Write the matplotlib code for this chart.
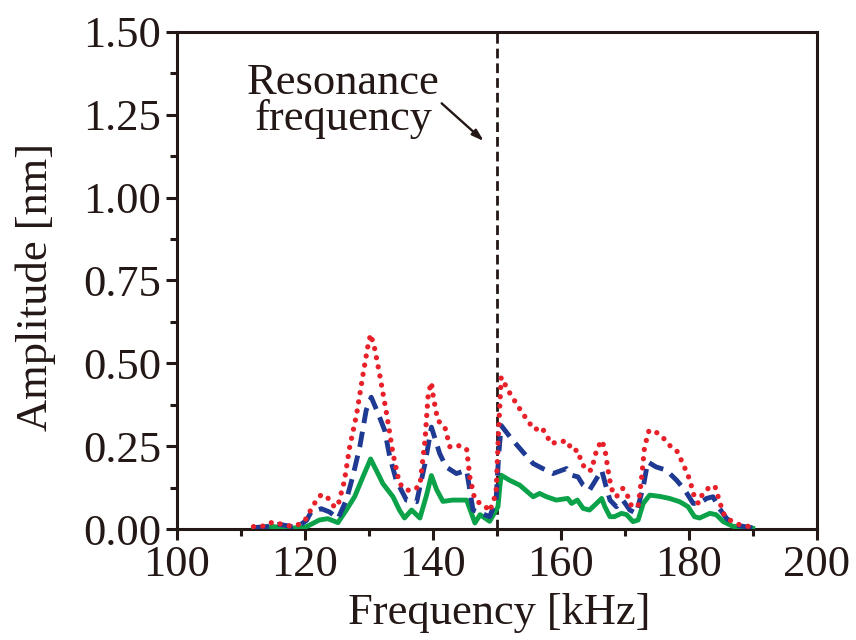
import matplotlib
matplotlib.use("Agg")
import matplotlib.pyplot as plt

plt.rcParams['font.family'] = ['Liberation Serif', 'DejaVu Serif']

ink = '#231815'

# amplitude spectra (kHz, nm)
freq_red = [112.0, 113.8, 115.0, 116.4, 117.7, 119.2, 120.3, 120.8, 121.6, 122.6,
            123.6, 124.7, 125.2, 126.2, 127.0, 128.1, 129.1, 129.9, 130.3, 130.9,
            131.7, 132.8, 133.8, 134.8, 135.9, 137.0, 138.0, 138.8, 139.3, 139.8,
            140.1, 140.8, 141.9, 142.7, 144.2, 145.3, 145.8, 146.6, 147.1, 148.1,
            148.9, 149.9, 150.3, 150.7, 152.0, 153.1, 154.1, 155.2, 155.9, 157.0,
            157.8, 158.5, 159.8, 161.1, 161.7, 162.7, 163.2, 164.0, 164.8, 165.6,
            166.4, 166.9, 167.4, 167.9, 168.7, 169.7, 170.3, 171.0, 172.1, 172.6,
            173.1, 173.8, 174.9, 176.0, 177.0, 178.1, 179.1, 180.2, 180.7, 181.5,
            182.2, 183.3, 184.1, 184.6, 185.4, 186.4, 187.9, 189.5, 190.0]
amp_red = [0.008, 0.010, 0.022, 0.015, 0.010, 0.015, 0.033, 0.053, 0.080, 0.105,
           0.095, 0.066, 0.072, 0.145, 0.245, 0.345, 0.465, 0.555, 0.588, 0.548,
           0.468, 0.348, 0.228, 0.138, 0.118, 0.118, 0.132, 0.268, 0.408, 0.443,
           0.398, 0.328, 0.308, 0.248, 0.252, 0.242, 0.158, 0.088, 0.082, 0.072,
           0.054, 0.108, 0.300, 0.458, 0.412, 0.378, 0.348, 0.318, 0.300, 0.308,
           0.283, 0.258, 0.265, 0.265, 0.238, 0.238, 0.203, 0.178, 0.178, 0.238,
           0.268, 0.243, 0.178, 0.123, 0.098, 0.123, 0.108, 0.073, 0.068, 0.148,
           0.248, 0.298, 0.293, 0.276, 0.253, 0.238, 0.198, 0.148, 0.108, 0.078,
           0.108, 0.128, 0.130, 0.098, 0.048, 0.028, 0.014, 0.008, 0.005]

freq_blue = [112.0, 114.0, 116.0, 118.0, 119.2, 120.3, 121.0, 122.6, 123.9, 125.2,
             126.5, 127.5, 128.6, 129.6, 130.4, 131.5, 132.5, 133.3, 134.3, 135.9,
             137.5, 138.8, 139.8, 141.1, 142.1, 143.7, 145.3, 146.3, 147.1, 148.9,
             149.9, 150.3, 150.7, 152.3, 154.1, 155.7, 157.2, 158.8, 160.9, 161.7,
             162.7, 163.5, 164.5, 165.3, 166.4, 167.1, 167.7, 168.7, 169.7, 170.8,
             171.8, 172.9, 173.6, 174.9, 176.5, 178.1, 179.4, 180.7, 181.7, 182.8,
             183.8, 184.8, 185.9, 187.4, 189.5, 190.0]
amp_blue = [0.005, 0.008, 0.015, 0.008, 0.012, 0.027, 0.052, 0.062, 0.052, 0.032,
            0.088, 0.158, 0.248, 0.358, 0.398, 0.348, 0.298, 0.218, 0.148, 0.088,
            0.083, 0.198, 0.308, 0.228, 0.188, 0.168, 0.178, 0.058, 0.052, 0.038,
            0.088, 0.220, 0.313, 0.273, 0.233, 0.198, 0.183, 0.168, 0.183, 0.163,
            0.158, 0.133, 0.118, 0.143, 0.178, 0.128, 0.088, 0.068, 0.088, 0.058,
            0.048, 0.128, 0.203, 0.188, 0.178, 0.148, 0.118, 0.078, 0.078, 0.093,
            0.098, 0.063, 0.033, 0.012, 0.006, 0.004]

freq_green = [112.0, 115.2, 117.5, 120.3, 122.3, 123.6, 125.2, 126.5, 127.8, 129.1,
              130.3, 131.7, 132.2, 133.8, 134.8, 135.6, 136.7, 138.0, 139.0, 139.8,
              140.6, 141.6, 143.1, 145.3, 146.6, 147.4, 148.9, 150.2, 150.5, 150.7,
              152.0, 153.6, 155.7, 156.7, 157.8, 159.3, 161.1, 161.7, 162.6, 163.5,
              164.5, 165.6, 166.4, 166.9, 167.7, 168.4, 169.5, 170.3, 171.3, 172.1,
              172.9, 173.9, 175.5, 177.0, 178.6, 179.9, 180.9, 181.7, 183.3, 184.3,
              185.4, 186.9, 189.5, 190.0]
amp_green = [0.002, 0.008, 0.002, 0.008, 0.028, 0.032, 0.020, 0.058, 0.098, 0.158,
             0.212, 0.158, 0.138, 0.098, 0.058, 0.034, 0.058, 0.034, 0.100, 0.162,
             0.120, 0.084, 0.088, 0.088, 0.019, 0.044, 0.024, 0.068, 0.130, 0.163,
             0.148, 0.133, 0.098, 0.108, 0.098, 0.088, 0.093, 0.078, 0.088, 0.063,
             0.058, 0.078, 0.093, 0.068, 0.038, 0.038, 0.048, 0.044, 0.023, 0.028,
             0.078, 0.103, 0.099, 0.093, 0.083, 0.068, 0.038, 0.034, 0.048, 0.044,
             0.023, 0.009, 0.004, 0.003]

resonance = 150.0
x_ticks = [100, 120, 140, 160, 180, 200]
y_ticks = [0.00, 0.25, 0.50, 0.75, 1.00, 1.25, 1.50]

fig = plt.figure(figsize=(8.56, 6.40), dpi=100)
ax = fig.add_axes([0.2064, 0.1730, 0.7477, 0.7775])

ax.plot(freq_green, amp_green, color='#0BA24A', lw=3.5, solid_joinstyle='round', zorder=3)
ax.plot(freq_blue, amp_blue, color='#1F3A93', lw=3.5, linestyle=(0, (3.2, 1.8)),
        dash_capstyle='butt', zorder=4)
ax.plot(freq_red, amp_red, color='#E8202A', lw=3.8, linestyle=(0, (0.01, 1.75)),
        dash_capstyle='round', zorder=5)

ax.axvline(resonance, color=ink, lw=2.0, linestyle=(0, (3.5, 1.8)), zorder=2)

ax.text(126.06, 1.291, 'Resonance\nfrequency', ha='center', va='center',
        multialignment='center', linespacing=0.85, fontsize=32, color=ink)
ax.annotate('', xy=(148.0, 1.170), xytext=(141.4, 1.284),
            arrowprops=dict(arrowstyle='-|>,head_length=0.7,head_width=0.22',
                            lw=1.7, color=ink, shrinkA=0, shrinkB=0))

ax.set_xlim(100, 200)
ax.set_ylim(0, 1.5)
ax.set_xticks(x_ticks)
ax.set_xticks(range(110, 200, 20), minor=True)
ax.set_yticks(y_ticks)
ax.set_yticks([0.125, 0.375, 0.625, 0.875, 1.125, 1.375], minor=True)
ax.set_yticklabels([f'{v:.2f}' for v in y_ticks])

ax.tick_params(which='both', direction='out', width=2.2, color=ink, labelcolor=ink,
               labelsize=32, top=False, right=False)
ax.tick_params(which='major', length=8)
ax.tick_params(which='minor', length=5)
ax.tick_params(axis='x', pad=3)
ax.tick_params(axis='y', pad=3)
for s in ax.spines.values():
    s.set_linewidth(2.2)
    s.set_color(ink)

ax.set_xlabel('Frequency [kHz]', fontsize=32, color=ink)
ax.set_ylabel('Amplitude [nm]', fontsize=32, color=ink)
ax.xaxis.set_label_coords(0.504, -0.128)
ax.yaxis.set_label_coords(-0.189, 0.487)

fig.savefig('out.png', dpi=100)
